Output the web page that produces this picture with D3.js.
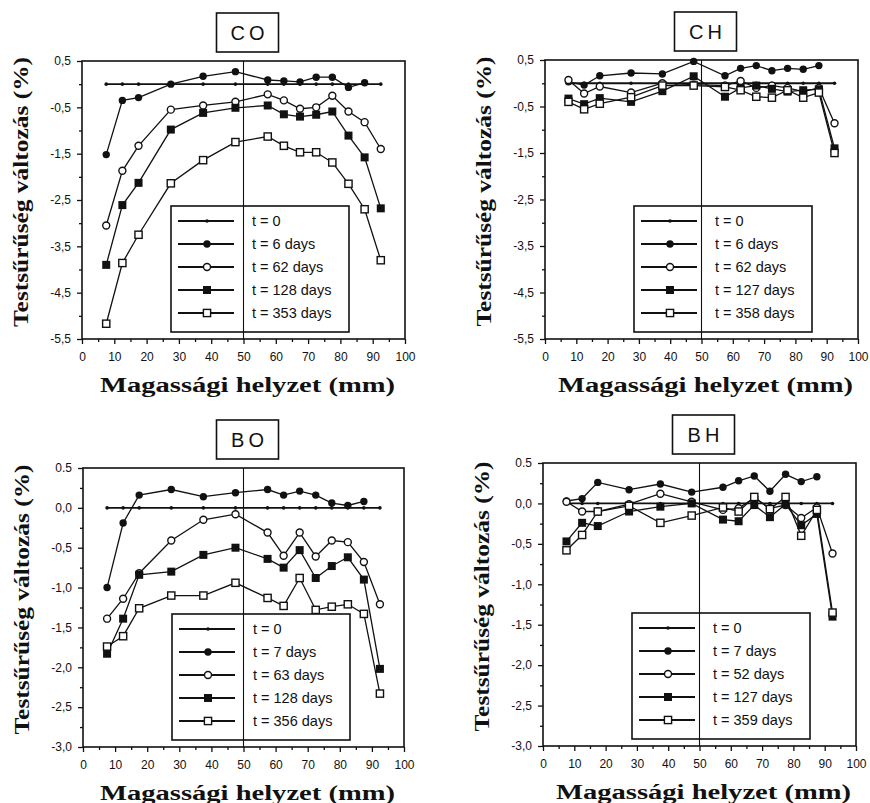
<!DOCTYPE html>
<html>
<head>
<meta charset="utf-8">
<script src="https://cdnjs.cloudflare.com/ajax/libs/d3/7.8.5/d3.min.js"></script>
<style>
body { margin: 0; background: #fff; }
.tick text { font-family: "Liberation Sans", Arial, sans-serif; font-size: 12px; fill: #111; }
.tick line { stroke: #111; stroke-width: 1.3; }
.axis-title { font-family: "Liberation Serif", "Times New Roman", serif; font-weight: bold; font-size: 20px; fill: #111; }
.legend-text { font-family: "Liberation Sans", Arial, sans-serif; font-size: 14.5px; fill: #111; }
.panel-title { font-family: "Liberation Sans", Arial, sans-serif; font-size: 20px; letter-spacing: 4px; fill: #111; }
</style>
</head>
<body>
<div id="viz"></div>
<script>
// measurement heights (mm) shared by all series
var positions = [7.5, 12.5, 17.5, 27.5, 37.5, 47.5, 57.5, 62.5, 67.5, 72.5, 77.5, 82.5, 87.5, 92.5];
var xTicks = [0, 10, 20, 30, 40, 50, 60, 70, 80, 90, 100];
var xTickLabels = ["0", "10", "20", "30", "40", "50", "60", "70", "80", "90", "100"];
var xMinor = [5, 15, 25, 35, 45, 55, 65, 75, 85, 95];

// top row y axis
var topYTicks = [0.5, -0.5, -1.5, -2.5, -3.5, -4.5, -5.5];
var topYLabels = ["0,5", "-0,5", "-1,5", "-2,5", "-3,5", "-4,5", "-5,5"];
var topYMinor = [0, -1, -2, -3, -4, -5];

// bottom row y axis
var botYTicks = [0.5, 0, -0.5, -1, -1.5, -2, -2.5, -3];
var botYLabels = ["0.5", "0,0", "-0,5", "-1,0", "-1,5", "-2,0", "-2,5", "-3,0"];
var botYMinor = [0.25, -0.25, -0.75, -1.25, -1.75, -2.25, -2.75];

// CO
var coLegend = ["t = 0", "t = 6 days", "t = 62 days", "t = 128 days", "t = 353 days"];
var coT0 = [0, 0, 0, 0, 0, 0, 0, 0, 0, 0, 0, 0, 0, 0];
var coT6 = [-1.52, -0.35, -0.29, 0.0, 0.17, 0.27, 0.09, 0.07, 0.05, 0.15, 0.15, -0.07, 0.03];
var coT62 = [-3.05, -1.87, -1.33, -0.55, -0.46, -0.38, -0.22, -0.35, -0.53, -0.5, -0.25, -0.59, -0.82, -1.4];
var coT128 = [-3.9, -2.61, -2.13, -0.98, -0.62, -0.51, -0.46, -0.65, -0.7, -0.66, -0.59, -1.11, -1.58, -2.68];
var coT353 = [-5.17, -3.86, -3.25, -2.14, -1.64, -1.25, -1.13, -1.33, -1.47, -1.47, -1.69, -2.15, -2.7, -3.8];

// CH
var chLegend = ["t = 0", "t = 6 days", "t = 62 days", "t = 127 days", "t = 358 days"];
var chT0 = [0, 0, 0, 0, 0, 0, 0, 0, 0, 0, 0, 0, 0, 0];
var chT6 = [0.03, -0.04, 0.16, 0.22, 0.2, 0.47, 0.16, 0.32, 0.38, 0.27, 0.32, 0.3, 0.38];
var chT62 = [0.07, -0.22, -0.07, -0.2, 0.0, -0.03, -0.05, 0.05, -0.1, -0.05, -0.1, -0.18, -0.1, -0.86];
var chT127 = [-0.33, -0.45, -0.32, -0.4, -0.17, 0.15, -0.29, -0.1, -0.05, -0.12, -0.18, -0.15, -0.13, -1.4];
var chT358 = [-0.4, -0.56, -0.44, -0.3, -0.05, -0.05, -0.08, -0.15, -0.29, -0.31, -0.15, -0.31, -0.2, -1.5];

// BO
var boLegend = ["t = 0", "t = 7 days", "t = 63 days", "t = 128 days", "t = 356 days"];
var boT0 = [0, 0, 0, 0, 0, 0, 0, 0, 0, 0, 0, 0, 0, 0];
var boT7 = [-1.0, -0.19, 0.16, 0.23, 0.14, 0.19, 0.23, 0.16, 0.21, 0.16, 0.06, 0.03, 0.08];
var boT63 = [-1.39, -1.14, -0.82, -0.41, -0.15, -0.08, -0.31, -0.6, -0.31, -0.61, -0.41, -0.43, -0.68, -1.21];
var boT128 = [-1.83, -1.39, -0.84, -0.8, -0.59, -0.5, -0.64, -0.75, -0.53, -0.88, -0.73, -0.62, -0.9, -2.02];
var boT356 = [-1.74, -1.61, -1.26, -1.1, -1.1, -0.94, -1.13, -1.23, -0.88, -1.28, -1.24, -1.21, -1.33, -2.33];

// BH
var bhLegend = ["t = 0", "t = 7 days", "t = 52 days", "t = 127 days", "t = 359 days"];
var bhT0 = [0, 0, 0, 0, 0, 0, 0, 0, 0, 0, 0, 0, 0, 0];
var bhT7 = [0.03, 0.06, 0.26, 0.17, 0.24, 0.14, 0.2, 0.28, 0.34, 0.15, 0.36, 0.27, 0.33];
var bhT52 = [0.02, -0.1, -0.1, -0.01, 0.12, 0.02, -0.08, -0.06, 0.07, -0.06, -0.02, -0.18, -0.05, -0.62];
var bhT127 = [-0.47, -0.24, -0.28, -0.1, -0.04, 0.0, -0.2, -0.22, -0.02, -0.17, -0.01, -0.27, -0.13, -1.4];
var bhT359 = [-0.58, -0.39, -0.1, -0.03, -0.24, -0.15, -0.05, -0.1, 0.08, -0.07, 0.08, -0.4, -0.08, -1.35];

var markers = ["dot", "circle", "ocircle", "square", "osquare"];
var yTitle = "Testsűrűség változás (%)";
var xTitle = "Magassági helyzet (mm)";

var panels = [
    {title: "CO", left: 82, top: 61, width: 323, height: 278, yDomain: [-5.5, 0.5],
     yTicks: topYTicks, yLabels: topYLabels, yMinor: topYMinor, legend: coLegend,
     series: [coT0, coT6, coT62, coT128, coT353]},
    {title: "CH", left: 545, top: 60, width: 313, height: 279, yDomain: [-5.5, 0.5],
     yTicks: topYTicks, yLabels: topYLabels, yMinor: topYMinor, legend: chLegend,
     series: [chT0, chT6, chT62, chT127, chT358]},
    {title: "BO", left: 83, top: 468, width: 321, height: 279, yDomain: [-3, 0.5],
     yTicks: botYTicks, yLabels: botYLabels, yMinor: botYMinor, legend: boLegend,
     series: [boT0, boT7, boT63, boT128, boT356]},
    {title: "BH", left: 543, top: 463, width: 313, height: 283, yDomain: [-3, 0.5],
     yTicks: botYTicks, yLabels: botYLabels, yMinor: botYMinor, legend: bhLegend,
     series: [bhT0, bhT7, bhT52, bhT127, bhT359]}
];

var svg = d3.select('#viz').append('svg')
    .attr('width', 870)
    .attr('height', 803)
    .style('background', '#fff');

function drawMarker(sel, type, cx, cy) {
    if (type === "dot") {
        sel.append('circle').attr('cx', cx).attr('cy', cy).attr('r', 1.8).attr('fill', '#111');
    } else if (type === "circle") {
        sel.append('circle').attr('cx', cx).attr('cy', cy).attr('r', 3.7).attr('fill', '#111');
    } else if (type === "ocircle") {
        sel.append('circle').attr('cx', cx).attr('cy', cy).attr('r', 3.5)
            .attr('fill', '#fff').attr('stroke', '#111').attr('stroke-width', 1.4);
    } else if (type === "square") {
        sel.append('rect').attr('x', cx - 4).attr('y', cy - 4).attr('width', 8).attr('height', 8).attr('fill', '#111');
    } else {
        sel.append('rect').attr('x', cx - 3.6).attr('y', cy - 3.6).attr('width', 7.2).attr('height', 7.2)
            .attr('fill', '#fff').attr('stroke', '#111').attr('stroke-width', 1.4);
    }
}

function drawPanel(p) {
    var x = d3.scaleLinear().domain([0, 100]).range([p.left, p.left + p.width]);
    var y = d3.scaleLinear().domain(p.yDomain).range([p.top + p.height, p.top]);
    var g = svg.append('g');

    // axes
    var xAxis = g.append('g')
        .attr('transform', 'translate(0,' + (p.top + p.height) + ')')
        .call(d3.axisBottom(x).tickValues(xTicks).tickSize(5).tickPadding(8)
            .tickFormat(function(d, i) { return xTickLabels[i]; }));
    xAxis.select('.domain').remove();
    var xMin = g.append('g')
        .attr('transform', 'translate(0,' + (p.top + p.height) + ')')
        .call(d3.axisBottom(x).tickValues(xMinor).tickSize(3).tickFormat(''));
    xMin.select('.domain').remove();

    var yAxis = g.append('g')
        .attr('transform', 'translate(' + p.left + ',0)')
        .call(d3.axisLeft(y).tickValues(p.yTicks).tickSize(5).tickPadding(6)
            .tickFormat(function(d, i) { return p.yLabels[i]; }));
    yAxis.select('.domain').remove();
    var yMin = g.append('g')
        .attr('transform', 'translate(' + p.left + ',0)')
        .call(d3.axisLeft(y).tickValues(p.yMinor).tickSize(3).tickFormat(''));
    yMin.select('.domain').remove();

    // series
    var line = d3.line()
        .x(function(d, i) { return x(positions[i]); })
        .y(function(d) { return y(d); });

    p.series.forEach(function(vals, k) {
        g.append('path')
            .datum(vals)
            .attr('d', line)
            .attr('fill', 'none')
            .attr('stroke', '#111')
            .attr('stroke-width', k === 0 ? 1.8 : 1.3);
    });
    p.series.forEach(function(vals, k) {
        var mg = g.append('g');
        vals.forEach(function(v, i) {
            drawMarker(mg, markers[k], x(positions[i]), y(v));
        });
    });

    // legend
    var lx = p.left + 89, lw = 178, lh = 126;
    var ly = p.top + p.height - lh - 7;
    var lg = g.append('g');
    lg.append('rect')
        .attr('x', lx).attr('y', ly).attr('width', lw).attr('height', lh)
        .attr('fill', '#fff').attr('stroke', '#111').attr('stroke-width', 1.6);
    p.legend.forEach(function(label, k) {
        var ry = ly + 15 + k * 23;
        lg.append('line')
            .attr('x1', lx + 7).attr('x2', lx + 63).attr('y1', ry).attr('y2', ry)
            .attr('stroke', '#111').attr('stroke-width', 1.8);
        drawMarker(lg, markers[k], lx + 36, ry);
        lg.append('text')
            .attr('class', 'legend-text')
            .attr('x', lx + 81).attr('y', ry + 5)
            .text(label);
    });

    // reference line at 50 mm
    g.append('line')
        .attr('x1', x(50)).attr('x2', x(50))
        .attr('y1', p.top).attr('y2', p.top + p.height)
        .attr('stroke', '#111').attr('stroke-width', 1.1);

    // frame
    g.append('rect')
        .attr('x', p.left).attr('y', p.top).attr('width', p.width).attr('height', p.height)
        .attr('fill', 'none').attr('stroke', '#111').attr('stroke-width', 1.6);

    // title box
    var tw = 62, th = 39, tcx = x(50) + 4;
    g.append('rect')
        .attr('x', tcx - tw / 2).attr('y', p.top - 9 - th).attr('width', tw).attr('height', th)
        .attr('fill', '#fff').attr('stroke', '#111').attr('stroke-width', 1.6);
    g.append('text')
        .attr('class', 'panel-title')
        .attr('x', tcx + 2).attr('y', p.top - 9 - th / 2 + 7)
        .attr('text-anchor', 'middle')
        .text(p.title);

    // axis titles
    g.append('text')
        .attr('class', 'axis-title')
        .attr('x', p.left + p.width / 2 + 4)
        .attr('y', p.top + p.height + 53)
        .attr('text-anchor', 'middle')
        .attr('textLength', 295)
        .attr('lengthAdjust', 'spacingAndGlyphs')
        .text(xTitle);
    g.append('text')
        .attr('class', 'axis-title')
        .attr('transform', 'translate(' + (p.left - 54) + ',' + (p.top + p.height / 2 - 8) + ') rotate(-90)')
        .attr('text-anchor', 'middle')
        .attr('textLength', 270)
        .attr('lengthAdjust', 'spacingAndGlyphs')
        .text(yTitle);
}

panels.forEach(drawPanel);
</script>
</body>
</html>
